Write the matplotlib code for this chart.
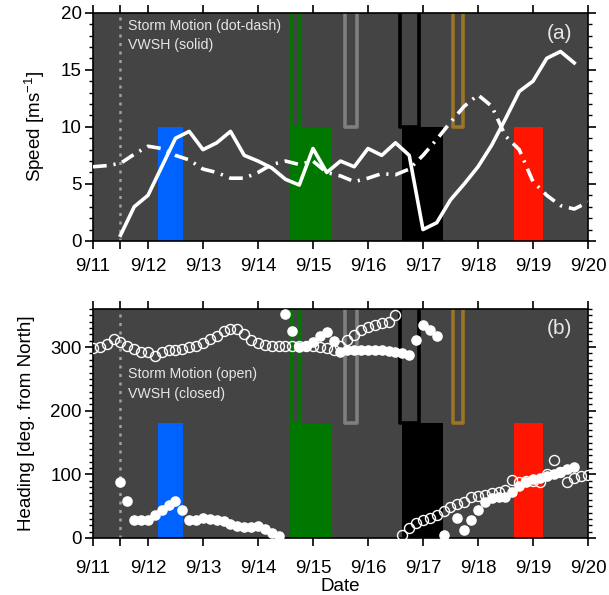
import numpy as np
import matplotlib
matplotlib.use('Agg')
import matplotlib.pyplot as plt
from matplotlib.ticker import MultipleLocator, FixedLocator

plt.rcParams.update({'font.family': ['Liberation Sans', 'DejaVu Sans'], 'font.size': 13.5,
    'mathtext.default': 'regular', 'axes.linewidth': 1.2,
    'xtick.major.width': 1.2, 'ytick.major.width': 1.2, 'xtick.minor.width': 1.0, 'ytick.minor.width': 1.0,
    'xtick.major.size': 5.5, 'ytick.major.size': 6, 'ytick.minor.size': 3.2})

BG = '#444444'
TXT = '#e6e6e6'

# days since 9/11 00 UTC
day_labels = ['9/11', '9/12', '9/13', '9/14', '9/15', '9/16', '9/17', '9/18', '9/19', '9/20']
genesis_day = 0.5

# 6-hourly speeds (m/s)
t_storm_spd = np.arange(0, 9.01, 0.25)
storm_spd = [6.5, 6.6, 6.8, 7.6, 8.3, 8.1, 7.5, 7.1, 6.3, 6.0, 5.5, 5.5, 6.0, 6.7, 7.0, 6.7,
             7.0, 6.0, 5.7, 5.2, 5.5, 5.9, 5.8, 6.3, 7.5, 8.9, 10.4, 11.8, 12.8, 11.8, 9.2, 8.0,
             5.2, 4.0, 3.1, 2.8, 3.4]
t_vwsh_spd = np.arange(0.5, 8.76, 0.25)
vwsh_spd = [0.5, 3.0, 4.0, 6.5, 9.0, 9.6, 8.0, 8.6, 9.6, 7.5, 7.0, 6.4, 5.4, 4.9, 8.1, 6.0,
            7.0, 6.5, 8.1, 7.5, 8.6, 7.5, 1.0, 1.6, 3.6, 5.0, 6.5, 8.4, 10.7, 13.1, 14.0, 16.0,
            16.6, 15.6]

# 3-hourly headings (deg from North)
t_storm_hdg = np.arange(0, 9.001, 0.125)
storm_hdg = [298, 300, 305, 313, 308, 301, 297, 293, 293, 286, 292, 295, 295, 297, 300, 301,
             306, 313, 318, 326, 329, 329, 321, 311, 306, 304, 302, 301, 301, 301, 302, 302,
             301, 300, 298, 296, 302, 311, 319, 327, 332, 335, 338, 340, 351, 5, 15, 24,
             29, 32, 36, 42, 49, 53, 57, 64, 66, 67, 70, 73, 76, 91, 88, 90, 90, 88,
             100, 122, 104, 88, 94, 97, 99]
t_vwsh_hdg = np.arange(0.5, 8.751, 0.125)
vwsh_hdg = [88, 58, 28, 28, 28, 36, 44, 52, 58, 44, 29, 29, 31, 30, 28, 26,
            22, 19, 18, 18, 19, 14, 8, 3, 352, 325, 300, 302, 308, 317, 324, 310,
            292, 295, 296, 296, 296, 296, 295, 294, 293, 291, 287, 311, 335, 327, 318, 5,
            np.nan, 31, 13, 28, 44, 57, 63, 65, 65, 72, 82, 88, 92, 95, 98, 101,
            104, 108, 112]

# shaded periods (filled) and marked periods (open)
fill_start = [1.175, 3.58, 5.61, 7.65]
fill_end = [1.635, 4.34, 6.36, 8.19]
fill_colors = ['#0062ff', '#007800', '#000000', '#ff1500']
open_start = [3.62, 4.585, 5.585, 6.545]
open_end = [3.765, 4.795, 5.925, 6.72]
open_colors = ['#007800', '#7f7f7f', '#000000', '#9b7526']

fig = plt.figure(figsize=(6.09, 5.95), dpi=100)
ax1 = fig.add_axes([0.1527, 0.595, 0.8128, 0.3837])
ax2 = fig.add_axes([0.1527, 0.0958, 0.8128, 0.385])

def periods(ax, low, top):
    for s, e, c in zip(fill_start, fill_end, fill_colors):
        ax.bar(s, low, width=e - s, align='edge', color=c, zorder=1)
    for s, e, c in zip(open_start, open_end, open_colors):
        ax.plot([s, s, e, e], [top, low, low, top], color=c, lw=2.6, solid_joinstyle='round', zorder=1.5)
    ax.axvline(genesis_day, color='#a0a0a0', ls=(0, (1.2, 2.2)), lw=1.8, zorder=1.2)

def frame(ax, ymax, major, minor, xpad):
    ax.set_facecolor(BG)
    ax.set_xlim(0, 9); ax.set_ylim(0, ymax)
    ax.xaxis.set_major_locator(FixedLocator([0, 0.5] + list(range(1, 10))))
    ax.set_xticklabels([day_labels[0], ''] + day_labels[1:])
    ax.yaxis.set_major_locator(MultipleLocator(major))
    ax.yaxis.set_minor_locator(MultipleLocator(minor))
    ax.tick_params(axis='x', which='both', top=True, direction='out', pad=xpad)
    ax.tick_params(axis='y', which='both', right=True, direction='out', pad=2)

# (a) speed
periods(ax1, 10, 30)
ax1.plot(t_storm_spd, storm_spd, color='white', lw=2.6, ls=(0, (3.8, 1.9, 0.6, 1.9)), zorder=3)
ax1.plot(t_vwsh_spd, vwsh_spd, color='white', lw=2.6, zorder=3)
frame(ax1, 20, 5, 1, 7)
ax1.set_ylabel('Speed [ms$^{-1}$]', labelpad=10)
ax1.text(0.64, 18.8, 'Storm Motion (dot-dash)', color=TXT, fontsize=10.2, va='center')
ax1.text(0.64, 17.15, 'VWSH (solid)', color=TXT, fontsize=10.2, va='center')
ax1.text(8.71, 18.2, '(a)', color=TXT, fontsize=15, ha='right', va='center')

# (b) heading
periods(ax2, 180, 500)
ax2.plot(t_storm_hdg, storm_hdg, 'o', mfc='none', mec='white', ms=7.2, mew=1.0, zorder=3)
ax2.plot(t_vwsh_hdg, vwsh_hdg, 'o', color='white', ms=6.6, zorder=3.5)
frame(ax2, 360, 100, 10, 10)
ax2.set_ylabel('Heading [deg. from North]', labelpad=11)
ax2.set_xlabel('Date', labelpad=1)
ax2.text(0.64, 258, 'Storm Motion (open)', color=TXT, fontsize=10.2, va='center')
ax2.text(0.64, 227, 'VWSH (closed)', color=TXT, fontsize=10.2, va='center')
ax2.text(8.71, 329, '(b)', color=TXT, fontsize=15, ha='right', va='center')

plt.savefig('out.png', dpi=100)
